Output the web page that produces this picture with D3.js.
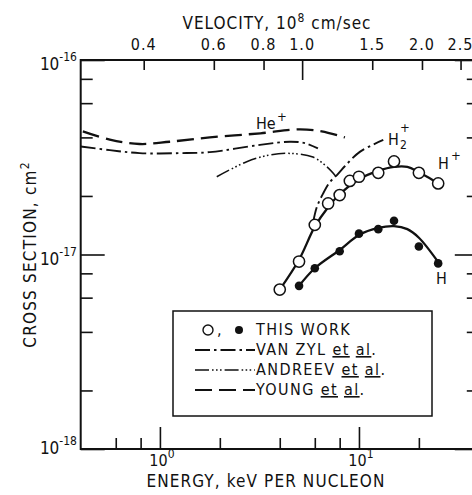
<!DOCTYPE html>
<html>
<head>
<meta charset="utf-8">
<script src="https://cdn.jsdelivr.net/npm/d3@7"></script>
<style>
  html, body { margin: 0; padding: 0; background: #fff; }
  svg { display: block; }
  text { font-family: "Liberation Sans Narrow", "DejaVu Sans Condensed", "Liberation Sans", sans-serif; fill: #111; }
</style>
</head>
<body>
<svg id="chart" width="472" height="495"></svg>
<script>
// ---------------- data ----------------
const energyMinorTicks = [0.6, 0.8, 2, 4, 6, 8, 20];
const energyMajorTicks = [1, 10];
const energyTickLabels = [["10", "0"], ["10", "1"]];
const velocityTicks = [0.4, 0.6, 0.8, 1.0, 1.5, 2.0, 2.5];
const velocityLabels = ["0.4", "0.6", "0.8", "1.0", "1.5", "2.0", "2.5"];
const sigmaMinorTicks = [8e-17, 6e-17, 4e-17, 2e-17, 8e-18, 6e-18, 4e-18, 2e-18];
const sigmaMajorTicks = [1e-16, 1e-17, 1e-18];
const sigmaTickLabels = [["10", "-16"], ["10", "-17"], ["10", "-18"]];

// This work: H+ (open circles) and H (filled circles)
const hPlusEnergy = [4, 5, 6, 7, 8, 9, 10, 12.5, 15, 20, 25];
const hPlusSigma = [6.6e-18, 9.2e-18, 1.42e-17, 1.83e-17, 2.02e-17, 2.39e-17, 2.51e-17, 2.63e-17, 3.01e-17, 2.63e-17, 2.32e-17];
const hEnergy = [5, 6, 8, 10, 12.5, 15, 20, 25];
const hSigma = [6.9e-18, 8.5e-18, 1.04e-17, 1.28e-17, 1.35e-17, 1.49e-17, 1.10e-17, 9.0e-18];

// smooth curves drawn through this work
const hPlusFitEnergy = [4, 5, 6, 7, 8, 10, 12.5, 15, 17.5, 20, 25];
const hPlusFitSigma = [6.6e-18, 9.4e-18, 1.39e-17, 1.75e-17, 2.04e-17, 2.44e-17, 2.69e-17, 2.82e-17, 2.82e-17, 2.65e-17, 2.32e-17];
const hFitEnergy = [5, 6, 8, 10, 12.5, 15, 17.5, 20, 25];
const hFitSigma = [6.9e-18, 8.5e-18, 1.055e-17, 1.26e-17, 1.37e-17, 1.40e-17, 1.35e-17, 1.22e-17, 9.15e-18];

// Young et al. (He+)
const youngEnergy = [0.41, 0.56, 0.79, 1.12, 1.78, 3.2, 5.0, 6.5, 8.5];
const youngSigma = [4.3e-17, 3.9e-17, 3.7e-17, 3.8e-17, 4.0e-17, 4.2e-17, 4.4e-17, 4.3e-17, 4.0e-17];
// Van Zyl et al. (He+)
const vanZylHeEnergy = [0.4, 0.56, 0.79, 1.26, 1.78, 3.18, 4.5, 5.35, 6.22];
const vanZylHeSigma = [3.59e-17, 3.44e-17, 3.32e-17, 3.32e-17, 3.36e-17, 3.66e-17, 3.80e-17, 3.74e-17, 3.51e-17];
// Andreev et al.
const andreevEnergy = [1.93, 2.73, 3.57, 4.5, 5.87, 6.91, 7.66];
const andreevSigma = [2.51e-17, 3.0e-17, 3.25e-17, 3.31e-17, 3.17e-17, 2.82e-17, 2.52e-17];
// Van Zyl et al. (H2+)
const vanZylH2Energy = [5.89, 6.15, 6.59, 7.15, 7.75, 8.51, 10.1, 13.25];
const vanZylH2Sigma = [1.47e-17, 1.76e-17, 2.05e-17, 2.36e-17, 2.56e-17, 2.85e-17, 3.37e-17, 3.88e-17];

const legendLabels = ["THIS WORK", "VAN ZYL", "ANDREEV", "YOUNG"];

// ---------------- layout ----------------
const svg = d3.select("#chart");
const L = 80.7, R = 478.8, T = 60, B = 449;
const KEV_PER_V2 = 5.182; // keV per nucleon at 1e8 cm/s

const x = d3.scaleLog().domain([0.4, 40]).range([L, R]);
const xv = d3.scaleLog()
  .domain([Math.sqrt(0.4 / KEV_PER_V2), Math.sqrt(40 / KEV_PER_V2)])
  .range([L, R]);
const y = d3.scaleLog().domain([1e-18, 1e-16]).range([B, T]);

const FS = 16;

// frame
svg.append("rect").attr("x", L).attr("y", T).attr("width", R - L).attr("height", B - T)
  .attr("fill", "none").attr("stroke", "#111").attr("stroke-width", 2);

function styleAxis(g) {
  g.select(".domain").remove();
  g.selectAll(".tick line").attr("stroke", "#111").attr("stroke-width", 1.6);
  g.selectAll(".tick text").remove();
}
// bottom ticks (inward)
svg.append("g").attr("transform", `translate(0,${B})`)
  .call(d3.axisBottom(x).tickValues(energyMinorTicks).tickSize(-11)).call(styleAxis);
svg.append("g").attr("transform", `translate(0,${B})`)
  .call(d3.axisBottom(x).tickValues(energyMajorTicks).tickSize(-22)).call(styleAxis);
// top ticks (velocity)
svg.append("g").attr("transform", `translate(0,${T})`)
  .call(d3.axisTop(xv).tickValues(velocityTicks.filter(v => v !== 1.0)).tickSize(-10)).call(styleAxis);
svg.append("g").attr("transform", `translate(0,${T})`)
  .call(d3.axisTop(xv).tickValues([1.0]).tickSize(-20)).call(styleAxis);
// left/right ticks
svg.append("g").attr("transform", `translate(${L},0)`)
  .call(d3.axisLeft(y).tickValues(sigmaMinorTicks).tickSize(-12)).call(styleAxis);
svg.append("g").attr("transform", `translate(${L},0)`)
  .call(d3.axisLeft(y).tickValues(sigmaMajorTicks).tickSize(-24)).call(styleAxis);
svg.append("g").attr("transform", `translate(${R},0)`)
  .call(d3.axisRight(y).tickValues(sigmaMinorTicks).tickSize(-12)).call(styleAxis);
svg.append("g").attr("transform", `translate(${R},0)`)
  .call(d3.axisRight(y).tickValues(sigmaMajorTicks).tickSize(-24)).call(styleAxis);

// top tick labels
velocityTicks.forEach((v, i) => {
  svg.append("text").attr("x", xv(v)).attr("y", 50).attr("text-anchor", "middle")
    .attr("font-size", FS).attr("letter-spacing", 1).text(velocityLabels[i]);
});
// top title
const vt = svg.append("text").attr("x", 277).attr("y", 29).attr("text-anchor", "middle")
  .attr("font-size", 17).attr("letter-spacing", 1);
vt.append("tspan").text("VELOCITY, 10");
vt.append("tspan").attr("dy", -7).attr("font-size", 12).text("8");
vt.append("tspan").attr("dy", 7).text(" cm/sec");

// bottom tick labels
energyMajorTicks.forEach((e, i) => {
  const t = svg.append("text").attr("x", x(e) + 2).attr("y", 466).attr("text-anchor", "middle")
    .attr("font-size", FS);
  t.append("tspan").text(energyTickLabels[i][0]);
  t.append("tspan").attr("dy", -8).attr("font-size", 12).text(energyTickLabels[i][1]);
});
svg.append("text").attr("x", 266).attr("y", 487).attr("text-anchor", "middle")
  .attr("font-size", 17).attr("letter-spacing", 1.1).text("ENERGY, keV PER NUCLEON");

// left tick labels
sigmaMajorTicks.forEach((s, i) => {
  const t = svg.append("text").attr("x", 77).attr("y", y(s) + (i === 2 ? 5 : 10)).attr("text-anchor", "end")
    .attr("font-size", 17);
  t.append("tspan").text(sigmaTickLabels[i][0]);
  t.append("tspan").attr("dy", -9).attr("font-size", 12).text(sigmaTickLabels[i][1]);
});
// left axis title
const yt = svg.append("text").attr("transform", `translate(36,${(T + B) / 2}) rotate(-90)`)
  .attr("text-anchor", "middle").attr("font-size", 17).attr("letter-spacing", 1.2);
yt.append("tspan").text("CROSS SECTION, cm");
yt.append("tspan").attr("dy", -7).attr("font-size", 12).text("2");

// ---------------- curves ----------------
const line = d3.line().x(d => x(d[0])).y(d => y(d[1])).curve(d3.curveCatmullRom.alpha(0.5));
const zip = (a, b) => a.map((v, i) => [v, b[i]]);

const DASH_YOUNG = "17,7";
const DASH_VANZYL = "15,4,2.5,4";
const DASH_ANDREEV = "14,3,1.6,2.4,1.6,2.4,1.6,3";

svg.append("path").attr("d", line(zip(youngEnergy, youngSigma)))
  .attr("fill", "none").attr("stroke", "#111").attr("stroke-width", 2.3).attr("stroke-dasharray", DASH_YOUNG);
svg.append("path").attr("d", line(zip(vanZylHeEnergy, vanZylHeSigma)))
  .attr("fill", "none").attr("stroke", "#111").attr("stroke-width", 1.9).attr("stroke-dasharray", DASH_VANZYL);
svg.append("path").attr("d", line(zip(andreevEnergy, andreevSigma)))
  .attr("fill", "none").attr("stroke", "#111").attr("stroke-width", 1.5).attr("stroke-dasharray", DASH_ANDREEV);
svg.append("path").attr("d", line(zip(vanZylH2Energy, vanZylH2Sigma)))
  .attr("fill", "none").attr("stroke", "#111").attr("stroke-width", 1.9).attr("stroke-dasharray", DASH_VANZYL);

svg.append("path").attr("d", line(zip(hPlusFitEnergy, hPlusFitSigma)))
  .attr("fill", "none").attr("stroke", "#111").attr("stroke-width", 2.3);
svg.append("path").attr("d", line(zip(hFitEnergy, hFitSigma)))
  .attr("fill", "none").attr("stroke", "#111").attr("stroke-width", 2.3);

// points
svg.append("g").selectAll("circle").data(zip(hPlusEnergy, hPlusSigma)).join("circle")
  .attr("cx", d => x(d[0])).attr("cy", d => y(d[1])).attr("r", 5.6)
  .attr("fill", "#fff").attr("stroke", "#111").attr("stroke-width", 1.5);
svg.append("g").selectAll("circle").data(zip(hEnergy, hSigma)).join("circle")
  .attr("cx", d => x(d[0])).attr("cy", d => y(d[1])).attr("r", 4.3)
  .attr("fill", "#111");

// curve labels
svg.append("text").attr("x", 256).attr("y", 129).attr("font-size", FS).text("He");
svg.append("text").attr("x", 277).attr("y", 121).attr("font-size", 13).text("+");
svg.append("text").attr("x", 388).attr("y", 145).attr("font-size", FS).text("H");
svg.append("text").attr("x", 400).attr("y", 132).attr("font-size", 13).text("+");
svg.append("text").attr("x", 400).attr("y", 149).attr("font-size", 12).text("2");
svg.append("text").attr("x", 438).attr("y", 169).attr("font-size", FS).text("H");
svg.append("text").attr("x", 451).attr("y", 160).attr("font-size", 13).text("+");
svg.append("text").attr("x", 436).attr("y", 284).attr("font-size", FS).text("H");

// ---------------- legend ----------------
const lg = svg.append("g");
lg.append("rect").attr("x", 173).attr("y", 311).attr("width", 259).attr("height", 105)
  .attr("fill", "#fff").attr("stroke", "#111").attr("stroke-width", 1.5);
const rows = [335, 355, 375, 395];
lg.append("circle").attr("cx", 208).attr("cy", 330).attr("r", 5).attr("fill", "#fff")
  .attr("stroke", "#111").attr("stroke-width", 1.4);
lg.append("text").attr("x", 217).attr("y", 335).attr("font-size", FS).text(",");
lg.append("circle").attr("cx", 239).attr("cy", 330).attr("r", 4).attr("fill", "#111");
const dashes = [null, DASH_VANZYL, DASH_ANDREEV, DASH_YOUNG];
legendLabels.forEach((lab, i) => {
  const t = lg.append("text").attr("x", 256).attr("y", rows[i]).attr("font-size", FS).attr("letter-spacing", 1.4);
  t.append("tspan").text(lab + " ");
  if (i > 0) {
    t.append("tspan").attr("text-decoration", "underline").text("et");
    t.append("tspan").text(" ");
    t.append("tspan").attr("text-decoration", "underline").text("al");
    t.append("tspan").text(".");
    lg.append("line").attr("x1", 195).attr("x2", 255).attr("y1", rows[i] - 5).attr("y2", rows[i] - 5)
      .attr("stroke", "#111").attr("stroke-width", i === 2 ? 1.6 : 2).attr("stroke-dasharray", dashes[i]);
  }
});
</script>
</body>
</html>
